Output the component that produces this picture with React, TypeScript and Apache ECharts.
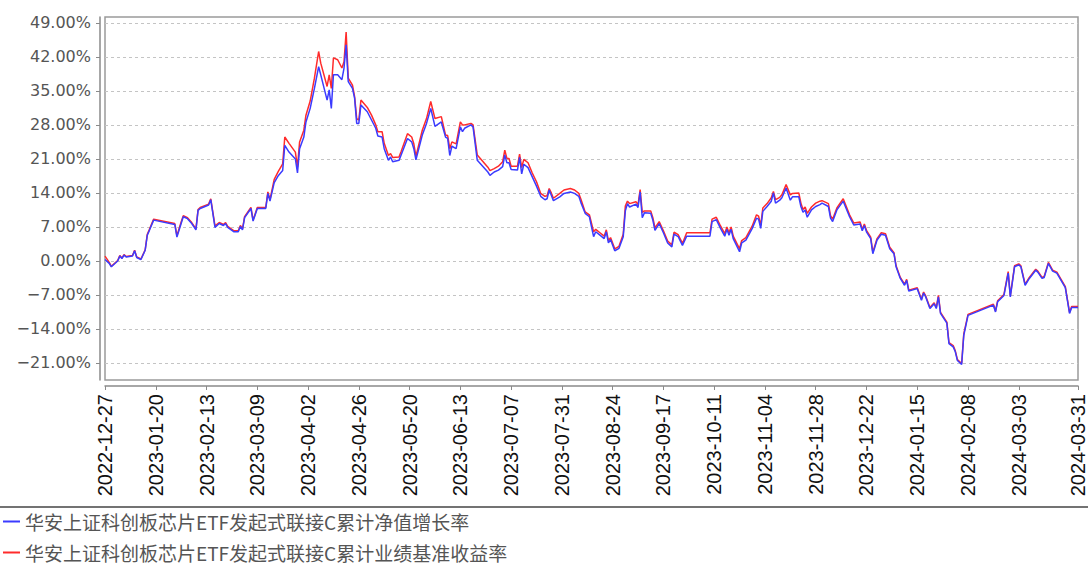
import React, { useEffect, useRef } from 'react';
import * as echarts from 'echarts';

const START = Date.UTC(2022, 11, 27);
const DAY_COUNT = 461;
const categories: string[] = [];
for (let i = 0; i < DAY_COUNT; i++) {
  categories.push(new Date(START + i * 86400000).toISOString().slice(0, 10));
}

const yTicks = [-21, -14, -7, 0, 7, 14, 21, 28, 35, 42, 49];

const navName = '华安上证科创板芯片ETF发起式联接C累计净值增长率';
const benchName = '华安上证科创板芯片ETF发起式联接C累计业绩基准收益率';

// day offsets from 2022-12-27
const dayIdx = [
  0, 2, 3, 6, 7, 8, 9, 10, 13, 14, 15, 17, 19, 20, 21, 23, 33, 34, 36, 37, 39, 41, 43, 44, 45, 49, 50,
  52, 54, 56, 57, 58, 61, 63, 64, 65, 66, 69, 70, 72, 76, 77, 78, 80, 82, 84, 85, 87, 90, 91, 92, 94,
  95, 97, 99, 101, 102, 105, 106, 107, 108, 110, 112, 113, 114, 115, 117, 118, 119, 120, 121, 124,
  126, 128, 129, 131, 132, 134, 135, 136, 139, 140, 143, 145, 146, 147, 150, 152, 154, 156, 159, 161,
  162, 163, 164, 166, 168, 169, 170, 173, 174, 176, 181, 182, 184, 186, 188, 189, 190, 191, 192, 195,
  196, 197, 198, 200, 202, 204, 206, 208, 209, 210, 211, 212, 215, 217, 220, 222, 224, 225, 227, 229,
  231, 232, 234, 236, 237, 238, 239, 241, 243, 245, 246, 247, 248, 251, 252, 253, 254, 255, 258, 259,
  260, 262, 264, 266, 268, 269, 271, 273, 275, 286, 287, 289, 291, 293, 294, 295, 296, 297, 300, 301,
  303, 306, 308, 309, 310, 311, 313, 315, 316, 317, 319, 320, 322, 324, 325, 328, 329, 330, 331, 332,
  334, 336, 338, 339, 342, 343, 344, 346, 349, 352, 354, 357, 358, 359, 360, 362, 363, 365, 367, 369,
  371, 373, 374, 376, 378, 379, 380, 384, 386, 387, 388, 390, 392, 393, 394, 395, 398, 399, 401, 402,
  403, 405, 406, 408, 420, 421, 422, 425, 427, 428, 430, 432, 433, 435, 437, 440, 441, 443, 444, 446,
  448, 450, 454, 456, 457, 460,
];

const navValues = [
  0.3, -0.5, -1.2, 0.0, 1.0, 0.5, 1.2, 0.8, 1.0, 2.1, 0.7, 0.3, 2.2, 5.3, 6.3, 8.4, 7.5, 4.9, 7.7, 9.1, 8.7, 7.7, 6.4, 10.4, 10.8, 11.5, 12.6,
  6.9, 7.7, 7.3, 7.7, 6.9, 6.0, 6.0, 7.1, 6.4, 8.9, 10.8, 8.2, 10.8, 10.8, 13.9, 12.3, 16.1, 17.6, 18.6, 23.8, 22.4, 21.0, 18.1, 23.1, 25.5,
  28.6, 31.4, 35.5, 40.0, 38.3, 33.1, 35.2, 31.4, 38.3, 38.3, 37.3, 39.7, 44.5, 36.9, 35.5, 33.5, 28.3, 28.3, 32.1, 30.7,
  29.0, 27.3, 25.7, 25.5, 23.1, 20.7, 21.4, 20.4, 20.7, 21.8, 25.2, 24.5, 23.1, 20.8, 25.9, 28.3, 31.4, 27.7, 28.6, 25.5,
  25.2, 21.7, 23.6, 23.1, 27.6, 26.6, 27.3, 28.0, 27.6, 20.7, 18.3, 17.6, 18.3, 18.7, 19.4, 21.8, 20.2, 20.2, 18.8, 18.7,
  21.3, 17.9, 19.9, 19.2, 17.3, 15.4, 13.3, 12.6, 12.8, 14.6, 13.5, 12.4, 13.2, 13.9, 14.2, 13.9, 13.3, 12.0, 9.8, 9.1,
  5.0, 6.0, 5.3, 4.6, 6.0, 3.7, 4.4, 2.1, 2.6, 5.0, 10.3, 11.8, 11.1, 11.7, 11.0, 14.2, 8.9, 9.9, 9.8, 8.4,
  6.3, 7.7, 5.8, 3.7, 2.9, 5.5, 5.0, 3.2, 5.1, 5.1, 8.1, 8.5, 6.7, 5.1, 6.5, 5.3, 6.5, 4.6, 1.9, 3.7,
  4.3, 6.7, 8.8, 8.6, 6.7, 10.2, 11.2, 12.3, 14.0, 11.9, 12.5, 13.0, 15.0, 12.5, 13.2, 13.2, 11.2, 10.0, 10.5, 9.0,
  10.5, 11.2, 11.6, 11.9, 11.2, 8.8, 8.1, 10.5, 12.3, 9.1, 7.4, 7.6, 6.2, 7.3, 6.0, 4.6, 1.5, 4.3, 5.5, 5.3,
  2.5, 1.5, -1.2, -3.6, -5.0, -4.0, -6.2, -5.7, -8.1, -6.6, -7.4, -9.8, -8.8, -9.8, -7.4, -10.8, -12.8, -17.0, -17.7, -18.7,
  -20.5, -21.3, -15.3, -11.2, -9.1, -10.5, -8.4, -7.1, -2.5, -7.4, -1.2, -0.8, -1.2, -5.0, -3.6, -1.9, -2.3, -3.6, -3.4, -0.5,
  -2.1, -2.5, -5.5, -10.8, -9.6, -9.6,
];

const benchValues = [
  1.0, -0.3, -1.1, 0.1, 1.1, 0.6, 1.3, 0.9, 1.1, 2.2, 0.8, 0.4, 2.3, 5.5, 6.5, 8.6, 7.7, 5.2, 8.0, 9.3, 8.9, 7.9, 6.6, 10.6, 11.0, 11.7, 12.8,
  7.2, 7.9, 7.5, 7.9, 7.1, 6.2, 6.2, 7.3, 6.6, 9.1, 11.0, 8.4, 11.0, 11.0, 14.2, 12.6, 16.8, 18.5, 20.0, 25.5, 24.2, 22.4, 19.3, 24.5, 26.9,
  30.0, 32.9, 37.6, 43.1, 40.7, 35.9, 38.3, 35.5, 41.8, 41.4, 39.7, 41.0, 47.1, 37.6, 36.2, 33.8, 29.3, 29.0, 33.1, 31.6,
  30.0, 28.0, 26.6, 26.6, 24.2, 21.7, 22.1, 21.3, 21.4, 22.5, 26.2, 25.5, 24.1, 21.5, 26.9, 29.3, 32.8, 29.3, 29.7, 25.9,
  25.8, 23.1, 24.5, 24.1, 28.6, 28.0, 28.0, 28.3, 28.0, 21.8, 19.3, 18.6, 19.0, 19.5, 20.4, 22.8, 21.1, 21.1, 19.5, 19.5,
  22.0, 19.2, 20.9, 20.2, 18.1, 16.3, 13.9, 13.3, 13.4, 14.9, 14.0, 12.9, 13.9, 14.6, 14.9, 14.6, 13.9, 12.7, 10.1, 9.5,
  6.0, 6.5, 5.8, 5.1, 6.4, 4.2, 4.8, 2.5, 3.0, 5.5, 11.3, 12.3, 11.8, 12.2, 11.6, 14.7, 10.0, 10.3, 10.3, 8.9,
  6.8, 8.1, 6.2, 4.1, 3.3, 5.9, 5.4, 3.6, 5.8, 5.8, 8.6, 9.0, 7.2, 5.6, 7.0, 5.8, 7.0, 5.1, 2.5, 4.2,
  4.8, 7.2, 9.5, 9.2, 7.3, 10.9, 11.8, 13.0, 14.3, 12.6, 13.1, 13.6, 15.7, 13.6, 13.9, 14.0, 11.9, 10.6, 11.1, 9.8,
  11.1, 11.9, 12.3, 12.4, 11.8, 9.3, 8.6, 10.9, 12.8, 9.5, 7.8, 8.0, 6.5, 7.6, 6.3, 4.9, 1.8, 4.6, 5.8, 5.6,
  2.8, 1.7, -1.0, -3.4, -4.8, -3.8, -6.0, -5.5, -7.9, -6.4, -7.2, -9.6, -8.6, -9.6, -7.1, -10.6, -12.6, -16.8, -17.4, -18.5,
  -20.3, -21.1, -15.0, -11.0, -8.9, -10.3, -8.2, -6.9, -2.2, -7.2, -1.0, -0.6, -1.0, -4.8, -3.4, -1.7, -2.1, -3.4, -3.2, -0.3,
  -1.9, -2.3, -5.3, -10.6, -9.4, -9.4,
];

const showLabel = (index: number) => (index % 24 === 0 && index <= 432) || index === DAY_COUNT - 1;

export default function App() {
  const ref = useRef<HTMLDivElement>(null);
  useEffect(() => {
    document.body.style.margin = '0';
    if (!ref.current) return;
    const chart = echarts.init(ref.current, undefined, { renderer: 'svg' });
    const navData = dayIdx.map((d, i) => [categories[d], navValues[i]]);
    const benchData = dayIdx.map((d, i) => [categories[d], benchValues[i]]);
    chart.setOption({
      animation: false,
      backgroundColor: '#ffffff',
      grid: {
        left: 105,
        right: 9,
        top: 17,
        bottom: 187,
        show: true,
        borderColor: '#9a9a9a',
        borderWidth: 1.5,
        containLabel: false,
      },
      xAxis: {
        type: 'category',
        data: categories,
        boundaryGap: false,
        offset: 6,
        axisLine: { show: true, onZero: false, lineStyle: { color: '#8a8a8a', width: 1.5 } },
        axisTick: { show: true, interval: (i: number) => showLabel(i), length: 4, lineStyle: { color: '#8a8a8a' } },
        axisLabel: {
          interval: (i: number) => showLabel(i),
          rotate: 90,
          margin: 8,
          fontSize: 20,
          fontFamily: 'Liberation Sans',
          color: '#111111',
        },
        splitLine: { show: false },
      },
      yAxis: {
        type: 'value',
        min: -24.5,
        max: 50.2,
        offset: 5,
        axisLine: { show: true, onZero: false, lineStyle: { color: '#8a8a8a', width: 1.5 } },
        axisTick: { show: true, customValues: yTicks, length: 4, lineStyle: { color: '#8a8a8a' } },
        axisLabel: {
          customValues: yTicks,
          fontSize: 16,
          fontFamily: 'DejaVu Sans',
          color: '#555555',
          margin: 9,
          formatter: (v: number) => (v < 0 ? '\u2212' : '') + Math.abs(v).toFixed(2) + '%',
        },
        splitLine: { show: true, lineStyle: { color: '#c4c4c4', type: [3, 3], width: 1 } },
      },
      legend: {
        orient: 'vertical',
        left: 3,
        top: 512,
        padding: 0,
        height: 54,
        itemWidth: 17,
        itemHeight: 2,
        itemGap: 12,
        icon: 'rect',
        data: [navName, benchName],
        textStyle: { fontSize: 19, lineHeight: 19, color: '#555555', fontFamily: 'Noto Sans CJK SC' },
      },
      graphic: [
        {
          type: 'line',
          shape: { x1: 0, y1: 507, x2: 1088, y2: 507 },
          style: { stroke: '#444444', lineWidth: 1.5 },
        },
      ],
      series: [
        {
          name: benchName,
          type: 'line',
          data: benchData,
          showSymbol: false,
          symbol: 'none',
          lineStyle: { color: '#ff2b2b', width: 1.5 },
          itemStyle: { color: '#ff2b2b' },
          z: 2,
        },
        {
          name: navName,
          type: 'line',
          data: navData,
          showSymbol: false,
          symbol: 'none',
          lineStyle: { color: '#3b3bff', width: 1.5 },
          itemStyle: { color: '#3b3bff' },
          z: 3,
        },
      ],
    });
    return () => chart.dispose();
  }, []);
  return <div ref={ref} style={{ width: 1088, height: 567 }} />;
}
